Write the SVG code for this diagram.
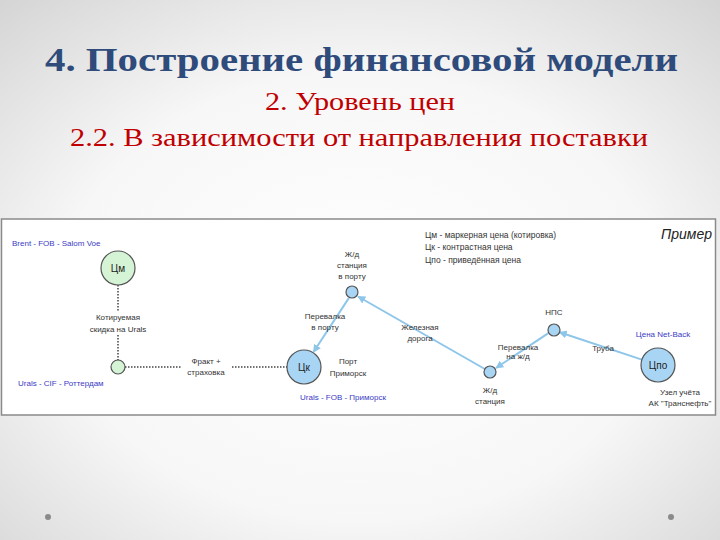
<svg xmlns="http://www.w3.org/2000/svg" width="720" height="540" viewBox="0 0 720 540">
<defs>
<radialGradient id="bg" cx="50%" cy="55%" r="75%">
<stop offset="0" stop-color="#ffffff"/>
<stop offset="0.55" stop-color="#f7f7f7"/>
<stop offset="1" stop-color="#d4d4d4"/>
</radialGradient>
<marker id="arr" viewBox="0 0 10 10" refX="9" refY="5" markerWidth="4" markerHeight="4" orient="auto" markerUnits="strokeWidth">
<path d="M0,0 L10,5 L0,10 z" fill="#8ec6ea"/>
</marker>
<style>
.t{font-family:"Liberation Sans",Arial,sans-serif;font-size:8px;fill:#333;text-anchor:middle}
.b{font-family:"Liberation Sans",Arial,sans-serif;font-size:8px;fill:#3b3bc4}
.lg{font-family:"Liberation Sans",Arial,sans-serif;font-size:8.5px;fill:#333}
.big{stroke:#555;stroke-width:1.2}
.g{fill:#d5f3d5}
.bl{fill:#a9d5f4}
.dot{stroke:#444;stroke-width:1.5;stroke-dasharray:1.5 1.5;fill:none}
.ar{stroke:#8ec6ea;stroke-width:2;fill:none;marker-end:url(#arr)}
.ct{font-family:"Liberation Sans",Arial,sans-serif;font-size:10px;fill:#222;text-anchor:middle}
</style>
</defs>
<rect width="720" height="540" fill="url(#bg)"/>
<text x="361.5" y="71" font-family="Liberation Serif,serif" font-weight="bold" font-size="34" fill="#2e4b7b" text-anchor="middle" textLength="633" lengthAdjust="spacingAndGlyphs">4. Построение финансовой модели</text>
<text x="360" y="110" font-family="Liberation Serif,serif" font-size="25" fill="#c00000" text-anchor="middle" textLength="190" lengthAdjust="spacingAndGlyphs">2. Уровень цен</text>
<text x="359" y="146" font-family="Liberation Serif,serif" font-size="25" fill="#c00000" text-anchor="middle" textLength="578" lengthAdjust="spacingAndGlyphs">2.2. В зависимости от направления поставки</text>
<circle cx="48" cy="517" r="3" fill="#8a8a8a"/>
<circle cx="671" cy="517" r="3" fill="#8a8a8a"/>
<rect x="1.5" y="219" width="714" height="196" fill="#ffffff" stroke="#8a8a8a" stroke-width="1.5"/>
<g id="connectors">
<line class="dot" x1="118" y1="285" x2="118" y2="311"/>
<line class="dot" x1="118" y1="335" x2="118" y2="361"/>
<line class="dot" x1="125" y1="367" x2="181" y2="367"/>
<line class="dot" x1="232" y1="367" x2="287" y2="367"/>
<line class="ar" x1="348.8" y1="298.1" x2="313.5" y2="352"/>
<line class="ar" x1="484.8" y1="369" x2="358" y2="296.5"/>
<line class="ar" x1="548" y1="333.3" x2="496" y2="368"/>
<line class="ar" x1="641.9" y1="359.6" x2="559.5" y2="332.2"/>
</g>
<g id="n-cm">
<circle class="big g" cx="118" cy="268" r="17"/>
<text class="ct" x="118" y="272">Цм</text>
<text class="b" x="12" y="246">Brent - FOB - Salom Voe</text>
</g>
<g id="lbl-skidka">
<text class="t" x="118" y="320">Котируемая</text>
<text class="t" x="118" y="332">скидка на Urals</text>
</g>
<g id="n-cif">
<circle class="big g" cx="118" cy="367" r="7"/>
<text class="b" x="18" y="386">Urals - CIF - Роттердам</text>
</g>
<g id="lbl-frakt">
<text class="t" x="206" y="364">Фракт +</text>
<text class="t" x="206" y="375">страховка</text>
</g>
<g id="n-ck">
<circle class="big bl" cx="304" cy="367" r="17"/>
<text class="ct" x="304" y="371">Цк</text>
<text class="t" x="348" y="364">Порт</text>
<text class="t" x="348" y="376">Приморск</text>
<text class="b" x="300" y="400">Urals - FOB - Приморск</text>
</g>
<g id="n-port-station">
<circle class="big bl" cx="352" cy="292" r="6"/>
<text class="t" x="352" y="257">Ж/д</text>
<text class="t" x="352" y="268">станция</text>
<text class="t" x="352" y="279">в порту</text>
</g>
<g id="lbl-perevalka-port">
<text class="t" x="325" y="319">Перевалка</text>
<text class="t" x="325" y="330">в порту</text>
</g>
<g id="lbl-railway">
<text class="t" x="420" y="330">Железная</text>
<text class="t" x="420" y="341">дорога</text>
</g>
<g id="n-station">
<circle class="big bl" cx="490" cy="372" r="6"/>
<text class="t" x="490" y="393">Ж/д</text>
<text class="t" x="490" y="404">станция</text>
</g>
<g id="n-nps">
<circle class="big bl" cx="554" cy="330" r="6"/>
<text class="t" x="554" y="315">НПС</text>
</g>
<g id="lbl-perevalka-zd">
<text class="t" x="518" y="350">Перевалка</text>
<text class="t" x="518" y="359">на ж/д</text>
</g>
<g id="lbl-truba">
<text class="t" x="603" y="351">Труба</text>
</g>
<g id="n-cpo">
<circle class="big bl" cx="658" cy="365" r="17"/>
<text class="ct" x="658" y="369">Цпо</text>
<text class="b" x="663" y="337" text-anchor="middle">Цена Net-Back</text>
<text class="t" x="680" y="395">Узел учёта</text>
<text class="t" x="680" y="406">АК "Транснефть"</text>
</g>
<g id="legend">
<text class="lg" x="425" y="238">Цм - маркерная цена (котировка)</text>
<text class="lg" x="425" y="250">Цк - контрастная цена</text>
<text class="lg" x="425" y="263">Цпо - приведённая цена</text>
<text x="712" y="239" font-family="Liberation Sans,Arial,sans-serif" font-style="italic" font-size="14" fill="#222" text-anchor="end">Пример</text>
</g>
</svg>
